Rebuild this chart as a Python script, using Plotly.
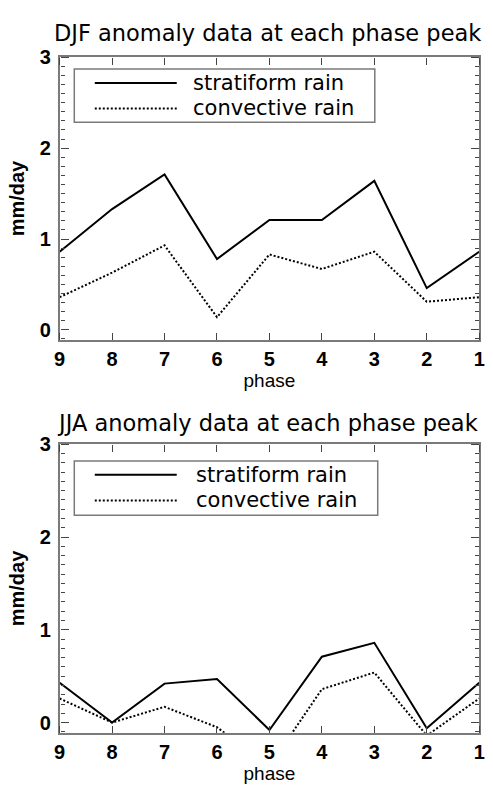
import plotly.graph_objects as go

W, H = 493, 785

phases = [9, 8, 7, 6, 5, 4, 3, 2, 1]
tick_labels = ["9", "8", "7", "6", "5", "4", "3", "2", "1"]

djf_stratiform = [0.86, 1.33, 1.71, 0.78, 1.21, 1.21, 1.64, 0.46, 0.86]
djf_convective = [0.36, 0.63, 0.93, 0.14, 0.83, 0.67, 0.86, 0.31, 0.36]

jja_stratiform = [0.43, 0.00, 0.42, 0.47, -0.08, 0.71, 0.86, -0.06, 0.43]
jja_convective = [0.26, 0.00, 0.17, -0.05, -0.47, 0.36, 0.54, -0.14, 0.26]

titles = ["DJF anomaly data at each phase peak", "JJA anomaly data at each phase peak"]
series_names = ["stratiform rain", "convective rain"]

FONT = "Liberation Sans, Arial, Helvetica, sans-serif"
WIDE = "DejaVu Sans, Liberation Sans, Arial, sans-serif"
FRAME = "#7a7a7a"
TICK = "#444444"
YRANGE = [-0.11, 3]
XRANGE = [9, 1]


def px(x):
    return x / W


def py(y):
    return 1 - y / H


# plot boxes in pixels: (left, right, top, bottom)
boxes = [(55, 485, 47, 334), (55, 485, 440, 733)]

fig = go.Figure()

data_sets = [(djf_stratiform, djf_convective), (jja_stratiform, jja_convective)]
for i, (strat, conv) in enumerate(data_sets):
    xa = "x" if i == 0 else "x2"
    ya = "y" if i == 0 else "y2"
    fig.add_trace(go.Scatter(x=phases, y=strat, mode="lines", name=series_names[0],
                             line=dict(color="black", width=2), xaxis=xa, yaxis=ya,
                             showlegend=False))
    fig.add_trace(go.Scatter(x=phases, y=conv, mode="lines", name=series_names[1],
                             line=dict(color="black", width=2, dash="2px,2px"),
                             xaxis=xa, yaxis=ya, showlegend=False))

main_x = dict(
    range=XRANGE, tickmode="array", tickvals=phases, ticktext=tick_labels, ticks="",
    showline=True, linecolor=FRAME, linewidth=1.5, mirror=True,
    showgrid=False, zeroline=False,
    tickfont=dict(family=FONT, size=20, color="black", weight="bold"),
    title=dict(text="phase", font=dict(family=FONT, size=19, color="black"), standoff=2),
)
main_y = dict(
    range=YRANGE, tickmode="linear", tick0=0, dtick=1, ticks="",
    showline=True, linecolor=FRAME, linewidth=1.5, mirror=True,
    showgrid=False, zeroline=False,
    tickfont=dict(family=FONT, size=20, color="black", weight="bold"),
    ticklabelstandoff=3,
    title=dict(text="mm/day", font=dict(family=FONT, size=20, color="black", weight="bold"), standoff=10),
)
# tick-only overlay axes placed on the opposite edge so that "outside" ticks point into the plot
tick_x = dict(
    range=XRANGE, tickmode="array", tickvals=phases, ticks="outside", ticklen=7,
    tickwidth=1.3, tickcolor=TICK, showticklabels=False, showline=False,
    showgrid=False, zeroline=False, anchor="free",
)
tick_y = dict(
    range=YRANGE, tickmode="linear", tick0=0, dtick=1, ticks="outside", ticklen=8,
    tickwidth=1.3, tickcolor=TICK, showticklabels=False, showline=False,
    minor=dict(tick0=0, dtick=0.1, ticks="outside", ticklen=4, tickwidth=1.2,
               tickcolor=TICK, showgrid=False),
    showgrid=False, zeroline=False, anchor="free",
)

layout_axes = {}
overlay_ids = [(3, 4), (5, 6)]
for i, (l, r, t, b) in enumerate(boxes):
    xb = "x" if i == 0 else "x2"
    yb = "y" if i == 0 else "y2"
    xk = "xaxis" if i == 0 else "xaxis2"
    yk = "yaxis" if i == 0 else "yaxis2"
    layout_axes[xk] = dict(domain=[px(l), px(r)], anchor=yb, **main_x)
    layout_axes[yk] = dict(domain=[py(b), py(t)], anchor=xb, **main_y)
    n1, n2 = overlay_ids[i]
    # ticks pointing up from the bottom edge / right from the left edge
    layout_axes[f"xaxis{n1}"] = dict(overlaying=xb, side="top", position=py(b), **tick_x)
    layout_axes[f"yaxis{n1}"] = dict(overlaying=yb, side="right", position=px(l), **tick_y)
    # ticks pointing down from the top edge / left from the right edge
    layout_axes[f"xaxis{n2}"] = dict(overlaying=xb, side="bottom", position=py(t), **tick_x)
    layout_axes[f"yaxis{n2}"] = dict(overlaying=yb, side="left", position=px(r), **tick_y)
    strat, conv = data_sets[i]
    for n in (n1, n2):
        fig.add_trace(go.Scatter(x=phases, y=strat, mode="lines", opacity=0,
                                 line=dict(color="black", width=1), hoverinfo="skip",
                                 xaxis=f"x{n}", yaxis=f"y{n}", showlegend=False))

fig.update_layout(**layout_axes)

shapes = []
annotations = []

title_y = [22, 418]
# legend geometry in pixels: box (x0, x1, y0, y1), row ys, line x0/x1, text x
legends = [
    dict(box=(70, 378, 59, 113), rows=(73, 99), lx=(91, 175), tx=190),
    dict(box=(70, 381, 457, 512), rows=(471, 497), lx=(91, 175), tx=193),
]
for i in range(2):
    annotations.append(dict(text=titles[i], x=px(268), y=py(title_y[i]), xref="paper", yref="paper",
                            xanchor="center", yanchor="middle", showarrow=False,
                            font=dict(family=WIDE, size=22.5, color="black")))
    lg = legends[i]
    x0, x1, y0, y1 = lg["box"]
    shapes.append(dict(type="rect", xref="paper", yref="paper", x0=px(x0), x1=px(x1), y0=py(y1), y1=py(y0),
                       line=dict(color=FRAME, width=1.5), fillcolor="rgba(0,0,0,0)"))
    for j, name in enumerate(series_names):
        dash = "solid" if j == 0 else "2px,2px"
        shapes.append(dict(type="line", xref="paper", yref="paper", x0=px(lg["lx"][0]), x1=px(lg["lx"][1]),
                           y0=py(lg["rows"][j]), y1=py(lg["rows"][j]),
                           line=dict(color="black", width=2, dash=dash)))
        annotations.append(dict(text=name, x=px(lg["tx"]), y=py(lg["rows"][j]), xref="paper", yref="paper",
                                xanchor="left", yanchor="middle", showarrow=False,
                                font=dict(family=WIDE, size=21, color="black")))

fig.update_layout(
    width=W, height=H, margin=dict(l=0, r=0, t=0, b=0),
    paper_bgcolor="white", plot_bgcolor="rgba(0,0,0,0)",
    shapes=shapes, annotations=annotations, showlegend=False,
)

fig.write_html("out.html")
